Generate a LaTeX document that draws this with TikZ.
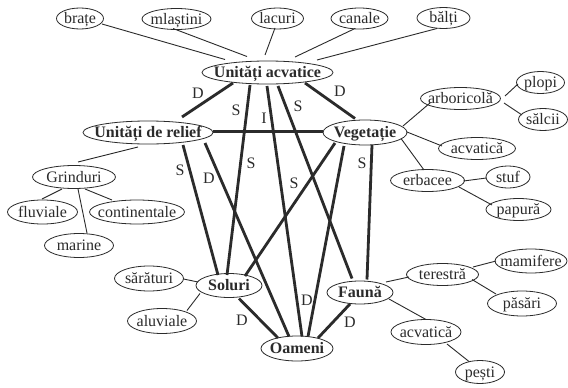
\documentclass[tikz,border=0pt]{standalone}
\usepackage{fontspec}
\setmainfont{Liberation Serif}
\usetikzlibrary{calc,shapes.geometric}
\definecolor{ink}{HTML}{2B2B2B}
\begin{document}
\begin{tikzpicture}[x=1pt,y=-1pt,
  every node/.style={font=\fontsize{16}{19}\selectfont, text=ink},
  ell/.style 2 args={ellipse, draw=ink, line width=0.8pt, inner sep=-60pt,
    minimum width=#1, minimum height=#2, text height=12pt, text depth=2pt},
  bell/.style 2 args={ell={#1}{#2}, font=\fontsize{16}{19}\selectfont\bfseries},
  lbl/.style={inner sep=0pt, text height=12pt, text depth=2pt},
  thinln/.style={draw=ink, line width=0.9pt},
  thickln/.style={draw=ink, line width=2.8pt}
]
\path[fill=white] (0,0) rectangle (568,388);
\useasboundingbox (0,0) rectangle (568,388);

% top nodes
\node[ell={47pt}{21pt}] (brate) at (80,18.5) {brațe};
\node[ell={69pt}{21pt}] (mlastini) at (176.5,19) {mlaștini};
\node[ell={52pt}{21pt}] (lacuri) at (277.5,18.5) {lacuri};
\node[ell={57pt}{21pt}] (canale) at (359.5,18.5) {canale};
\node[ell={53pt}{21pt}] (balti) at (443.5,18) {bălți};

% main nodes
\node[bell={131pt}{23pt}] (ua) at (267.5,72.5) {Unități acvatice};
\node[bell={130pt}{23pt}] (ur) at (148,132.5) {Unități de relief};
\node[bell={84pt}{25pt}] (veg) at (365,132.5) {Vegetație};
\node[bell={66pt}{24pt}] (sol) at (229,285.5) {Soluri};
\node[bell={72pt}{25pt}] (oam) at (297,348.5) {Oameni};
\node[bell={66pt}{23pt}] (fau) at (360,292.5) {Faună};

% relief children
\node[ell={83pt}{23pt}] (grin) at (74,177) {Grinduri};
\node[ell={70pt}{24pt}] (fluv) at (42.5,212) {fluviale};
\node[ell={95pt}{24pt}] (cont) at (137,212) {continentale};
\node[ell={69pt}{24pt}] (mar) at (79,245.5) {marine};

% soil children
\node[ell={69pt}{25pt}] (sar) at (149,278.5) {sărături};
\node[ell={69pt}{25pt}] (aluv) at (162,321) {aluviale};

% vegetation children
\node[ell={80pt}{22pt}] (arb) at (460.5,98.5) {arboricolă};
\node[ell={48pt}{22pt}] (plopi) at (540.5,82.5) {plopi};
\node[ell={49pt}{22pt}] (salcii) at (543,119.5) {sălcii};
\node[ell={77pt}{22pt}] (acvv) at (477,148.5) {acvatică};
\node[ell={74pt}{22pt}] (erb) at (427.5,180.5) {erbacee};
\node[ell={44pt}{22pt}] (stuf) at (508,177) {stuf};
\node[ell={65pt}{22pt}] (pap) at (518.5,209.5) {papură};

% fauna children
\node[ell={72pt}{22pt}] (ter) at (442.5,274.5) {terestră};
\node[ell={72pt}{24pt}] (mam) at (531,261) {mamifere};
\node[ell={69pt}{25pt}] (pas) at (522,303.5) {păsări};
\node[ell={70pt}{25pt}] (acvf) at (426,332) {acvatică};
\node[ell={49pt}{23pt}] (pesti) at (480,372) {pești};

% thin connectors
\draw[thinln] ($(brate)+(22,5.5)$) -- ($(ua)+(-42.5,-13)$);
\draw[thinln] ($(mlastini)+(-3.5,9.5)$) -- ($(ua)+(-20.5,-16)$);
\draw[thinln] ($(lacuri)+(-2.5,9.5)$) -- ($(ua)+(-2.5,-17.5)$);
\draw[thinln] ($(canale)+(-4.5,10)$) -- ($(ua)+(27.5,-15.5)$);
\draw[thinln] ($(balti)+(-6.5,10.5)$) -- ($(ua)+(49.5,-12.5)$);

\draw[thinln] ($(ur)+(-10,14.5)$) -- ($(grin)+(4,-15)$);
\draw[thinln] ($(grin)+(-12,12)$) -- ($(fluv)+(-0.5,-13)$);
\draw[thinln] ($(grin)+(4,12)$) -- ($(mar)+(8,-12.5)$);
\draw[thinln] ($(grin)+(11,12)$) -- ($(cont)+(-25,-12)$);

\draw[thinln] ($(sar)+(34.5,0.5)$) -- ($(sol)+(-31,-3.5)$);
\draw[thinln] ($(aluv)+(25,-10.5)$) -- ($(sol)+(-29,8)$);

\draw[thinln] ($(veg)+(38,-6.5)$) -- ($(arb)+(-30.5,4.5)$);
\draw[thinln] ($(veg)+(42,-0.5)$) -- ($(acvv)+(-35,-2.5)$);
\draw[thinln] ($(veg)+(36,6)$) -- ($(erb)+(-3.5,-10.5)$);
\draw[thinln] ($(arb)+(44.5,-2.5)$) -- ($(plopi)+(-22.5,1.5)$);
\draw[thinln] ($(arb)+(43.5,4.5)$) -- ($(salcii)+(-21,-4.5)$);
\draw[thinln] ($(erb)+(36,0.5)$) -- ($(stuf)+(-21.5,1)$);
\draw[thinln] ($(erb)+(31.5,6.5)$) -- ($(pap)+(-26.5,-4.5)$);

\draw[thinln] ($(fau)+(26,-10.5)$) -- ($(ter)+(-33.5,2.5)$);
\draw[thinln] ($(ter)+(30.5,-7.5)$) -- ($(mam)+(-35,0)$);
\draw[thinln] ($(ter)+(29.5,5)$) -- ($(pas)+(-26,-9.5)$);
\draw[thinln] ($(fau)+(29,6.5)$) -- ($(acvf)+(0,-12.5)$);
\draw[thinln] ($(acvf)+(21,12)$) -- ($(pesti)+(-11,-10.5)$);

% thick connectors
\draw[thickln] ($(ua)+(-34.5,10.5)$) -- ($(ur)+(34,-15.5)$);
\draw[thickln] ($(ua)+(-17.5,12.5)$) -- ($(sol)+(-2,-10.5)$);
\draw[thickln] ($(ua)+(-0.5,13.5)$) -- ($(oam)+(5,-12)$);
\draw[thickln] ($(ua)+(10.5,13.5)$) -- ($(fau)+(-8,-14)$);
\draw[thickln] ($(ua)+(37.5,10.5)$) -- ($(veg)+(-10,-14)$);
\draw[thickln] ($(ur)+(65,-1)$) -- ($(veg)+(-42,-1)$);
\draw[thickln] ($(ur)+(35,12.5)$) -- ($(sol)+(-11,-10.5)$);
\draw[thickln] ($(ur)+(57,10.5)$) -- ($(oam)+(-8,-12)$);
\draw[thickln] ($(veg)+(-30,10.5)$) -- ($(sol)+(16,-9.5)$);
\draw[thickln] ($(veg)+(-21,13.5)$) -- ($(oam)+(11,-12)$);
\draw[thickln] ($(veg)+(7,12.5)$) -- ($(fau)+(7,-13)$);
\draw[thickln] ($(sol)+(10,13)$) -- ($(oam)+(-19,-10.5)$);
\draw[thickln] ($(fau)+(-10,11.5)$) -- ($(oam)+(21,-10.5)$);

% labels
\node[lbl] (l1) at (198,93) {D};
\node[lbl] (l2) at (236,110) {S};
\node[lbl] (l3) at (264,118) {I};
\node[lbl] (l4) at (298,106) {S};
\node[lbl] (l5) at (340,91) {D};
\node[lbl] (l6) at (180,170) {S};
\node[lbl] (l7) at (209,178) {D};
\node[lbl] (l8) at (251,163) {S};
\node[lbl] (l9) at (294,183) {S};
\node[lbl] (l10) at (362,163) {S};
\node[lbl] (l11) at (242,320) {D};
\node[lbl] (l12) at (307,300) {D};
\node[lbl] (l13) at (350,322) {D};
\end{tikzpicture}
\end{document}
